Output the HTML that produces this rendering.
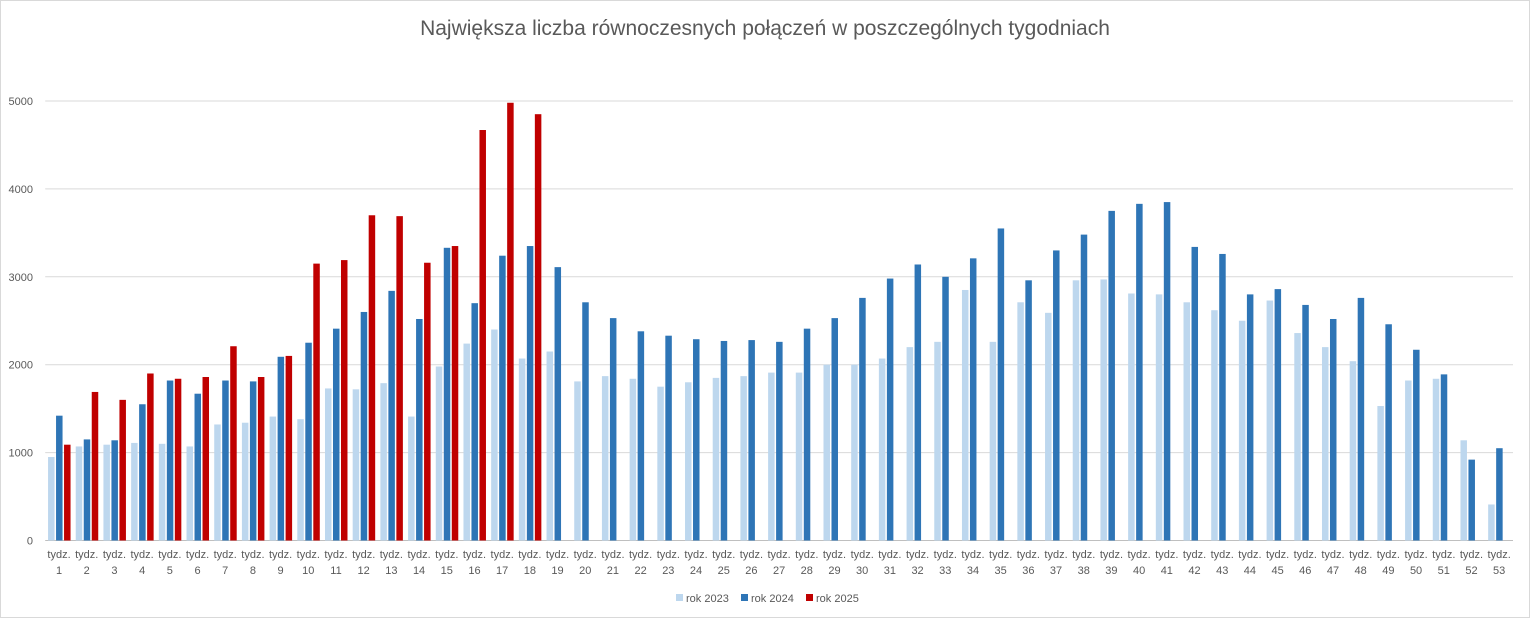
<!DOCTYPE html>
<html><head><meta charset="utf-8"><style>
body{margin:0;background:#fff;font-family:"Liberation Sans",sans-serif;}
svg text{font-family:"Liberation Sans",sans-serif;}
</style></head><body>
<svg width="1530" height="618" id="c">
<rect x="0.5" y="0.5" width="1529" height="617" fill="#fff" stroke="#d9d9d9"/>
<text x="765" y="35" text-anchor="middle" font-size="21" fill="#595959">Największa liczba równoczesnych połączeń w poszczególnych tygodniach</text>
<g id="grid"></g>
<g id="bars"></g>
<g id="xl"></g>
<g>
<rect x="676" y="594" width="7" height="7" fill="#bdd7ee"/>
<text x="686" y="602" font-size="11" fill="#595959">rok 2023</text>
<rect x="741" y="594" width="7" height="7" fill="#2e75b6"/>
<text x="751" y="602" font-size="11" fill="#595959">rok 2024</text>
<rect x="806" y="594" width="7" height="7" fill="#c00000"/>
<text x="816" y="602" font-size="11" fill="#595959">rok 2025</text>
</g>
</svg>
<script>
const weeks = Array.from({length:53},(_,i)=>i+1);
const s2023 = [950,1070,1090,1110,1100,1070,1320,1340,1410,1380,1730,1720,1790,1410,1980,2240,2400,2070,2150,1810,1870,1840,1750,1800,1850,1870,1910,1910,2000,2000,2070,2200,2260,2850,2260,2710,2590,2960,2970,2810,2800,2710,2620,2500,2730,2360,2200,2040,1530,1820,1840,1140,410];
const s2024 = [1420,1150,1140,1550,1820,1670,1820,1810,2090,2250,2410,2600,2840,2520,3330,2700,3240,3350,3110,2710,2530,2380,2330,2290,2270,2280,2260,2410,2530,2760,2980,3140,3000,3210,3550,2960,3300,3480,3750,3830,3850,3340,3260,2800,2860,2680,2520,2760,2460,2170,1890,920,1050];
const s2025 = [1090,1690,1600,1900,1840,1860,2210,1860,2100,3150,3190,3700,3690,3160,3350,4670,4980,4850];
const yTicks = [0,1000,2000,3000,4000,5000];
const NS="http://www.w3.org/2000/svg";
const L=45.2,R=1513,Y0=540.5,PER=(540.5-101)/5000;
const cw=(R-L)/weeks.length;
const y=v=>Y0-v*PER;
const xc=i=>L+cw*(i+0.5);
const grid=document.getElementById('grid');
yTicks.forEach(t=>{
 const l=document.createElementNS(NS,'line');
 l.setAttribute('x1',L);l.setAttribute('x2',R);l.setAttribute('y1',y(t));l.setAttribute('y2',y(t));
 l.setAttribute('stroke',t===0?'#bfbfbf':'#d9d9d9');
 
 
 grid.appendChild(l);
 const tx=document.createElementNS(NS,'text');
 tx.setAttribute('x',33);tx.setAttribute('y',y(t)+4);tx.setAttribute('text-anchor','end');
 tx.setAttribute('font-size','11');tx.setAttribute('fill','#595959');tx.textContent=t;
 
 
 grid.appendChild(tx);
});
const bars=document.getElementById('bars');
const series=[[s2023,'#bdd7ee',-11],[s2024,'#2e75b6',-3],[s2025,'#c00000',5]];
series.forEach(([d,c,off],si)=>{
 d.forEach((v,i)=>{
  const r=document.createElementNS(NS,'rect');
  r.setAttribute('x',xc(i)+off);r.setAttribute('width',6.5);
  r.setAttribute('y',y(v));r.setAttribute('height',Y0-y(v));r.setAttribute('fill',c);
  
  
  bars.appendChild(r);
 });
});
const xl=document.getElementById('xl');
weeks.forEach((w,i)=>{
 const t=document.createElementNS(NS,'text');
 t.setAttribute('x',xc(i));t.setAttribute('y',558);t.setAttribute('text-anchor','middle');
 t.setAttribute('font-size','11');t.setAttribute('fill','#595959');t.textContent='tydz.';
 
 
 xl.appendChild(t);
 const n=document.createElementNS(NS,'text');
 n.setAttribute('x',xc(i));n.setAttribute('y',574);n.setAttribute('text-anchor','middle');
 n.setAttribute('font-size','11');n.setAttribute('fill','#595959');n.textContent=w;
 
 
 xl.appendChild(n);
});
</script>
</body></html>
